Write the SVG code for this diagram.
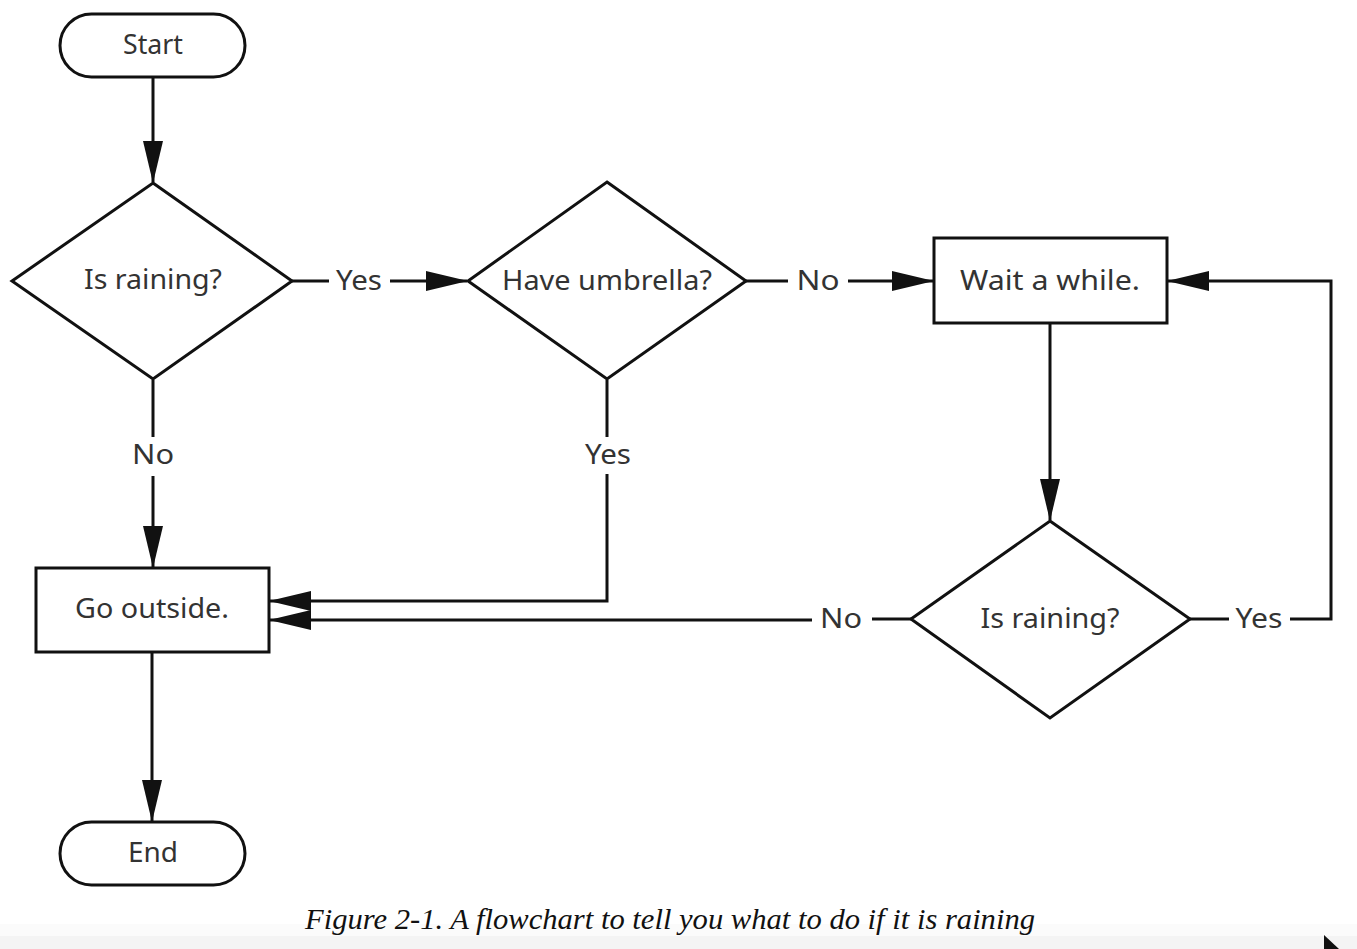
<svg xmlns="http://www.w3.org/2000/svg" width="1357" height="949" viewBox="0 0 1357 949">
<style>
.shape{fill:#fff;stroke:#111;stroke-width:3}
.conn{fill:none;stroke:#111;stroke-width:3}
.t{font-family:"Noto Sans","Liberation Sans",sans-serif;font-size:27px;fill:#333;text-anchor:middle}
.cap{font-family:"Liberation Serif",serif;font-style:italic;font-size:30px;fill:#111}
</style>
<defs>
<marker id="ah" markerUnits="userSpaceOnUse" markerWidth="42" markerHeight="22" refX="41" refY="11" orient="auto">
<polygon points="0,1 42,11 0,21" fill="#111"/>
</marker>
</defs>
<rect x="0" y="0" width="1357" height="949" fill="#fff"/>
<rect x="0" y="924" width="1357" height="12" fill="#fbfbfb"/>
<rect x="0" y="936" width="1357" height="13" fill="#f4f4f4"/>

<g id="connectors">
<path class="conn" d="M153,77 V182" marker-end="url(#ah)"/>
<path class="conn" d="M292,281 H329"/>
<path class="conn" d="M390,281 H467" marker-end="url(#ah)"/>
<path class="conn" d="M746,281 H788"/>
<path class="conn" d="M848,281 H933" marker-end="url(#ah)"/>
<path class="conn" d="M1050,323 V520" marker-end="url(#ah)"/>
<path class="conn" d="M1190,619 H1229"/>
<path class="conn" d="M1290,619 H1331 V281 H1168" marker-end="url(#ah)"/>
<path class="conn" d="M911,619 H872"/>
<path class="conn" d="M812,620 H270" marker-end="url(#ah)"/>
<path class="conn" d="M607,380 V437"/>
<path class="conn" d="M607,474 V601 H270" marker-end="url(#ah)"/>
<path class="conn" d="M153,380 V437"/>
<path class="conn" d="M153,476 V567" marker-end="url(#ah)"/>
<path class="conn" d="M152,652 V821" marker-end="url(#ah)"/>
<text class="t" x="359" y="290" textLength="46" lengthAdjust="spacingAndGlyphs">Yes</text>
<text class="t" x="818" y="290" textLength="43" lengthAdjust="spacingAndGlyphs">No</text>
<text class="t" x="153" y="464" textLength="42" lengthAdjust="spacingAndGlyphs">No</text>
<text class="t" x="608" y="464" textLength="46" lengthAdjust="spacingAndGlyphs">Yes</text>
<text class="t" x="841" y="628" textLength="42" lengthAdjust="spacingAndGlyphs">No</text>
<text class="t" x="1259" y="628" textLength="47" lengthAdjust="spacingAndGlyphs">Yes</text>
</g>

<g id="start">
<rect class="shape" x="60" y="14" width="185" height="63" rx="31.5"/>
<text class="t" x="153" y="54" textLength="60" lengthAdjust="spacingAndGlyphs">Start</text>
</g>
<g id="is-raining-1">
<polygon class="shape" points="153,183 292,281 153,379 12,281"/>
<text class="t" x="153" y="289" textLength="138" lengthAdjust="spacingAndGlyphs">Is raining?</text>
</g>
<g id="have-umbrella">
<polygon class="shape" points="607,182 746,281 607,379 468,281"/>
<text class="t" x="607" y="290" textLength="210" lengthAdjust="spacingAndGlyphs">Have umbrella?</text>
</g>
<g id="wait">
<rect class="shape" x="934" y="238" width="233" height="85"/>
<text class="t" x="1050" y="290" textLength="180" lengthAdjust="spacingAndGlyphs">Wait a while.</text>
</g>
<g id="is-raining-2">
<polygon class="shape" points="1050,521 1190,619 1050,718 911,619"/>
<text class="t" x="1050" y="628" textLength="139" lengthAdjust="spacingAndGlyphs">Is raining?</text>
</g>
<g id="go-outside">
<rect class="shape" x="36" y="568" width="233" height="84"/>
<text class="t" x="152" y="618" textLength="154" lengthAdjust="spacingAndGlyphs">Go outside.</text>
</g>
<g id="end">
<rect class="shape" x="60" y="822" width="185" height="63" rx="31.5"/>
<text class="t" x="153" y="862" textLength="50" lengthAdjust="spacingAndGlyphs">End</text>
</g>

<text class="cap" x="305" y="929" textLength="730" lengthAdjust="spacingAndGlyphs">Figure 2-1. A flowchart to tell you what to do if it is raining</text>
<polygon points="1324,935 1324,949 1339,949" fill="#111"/>
</svg>
